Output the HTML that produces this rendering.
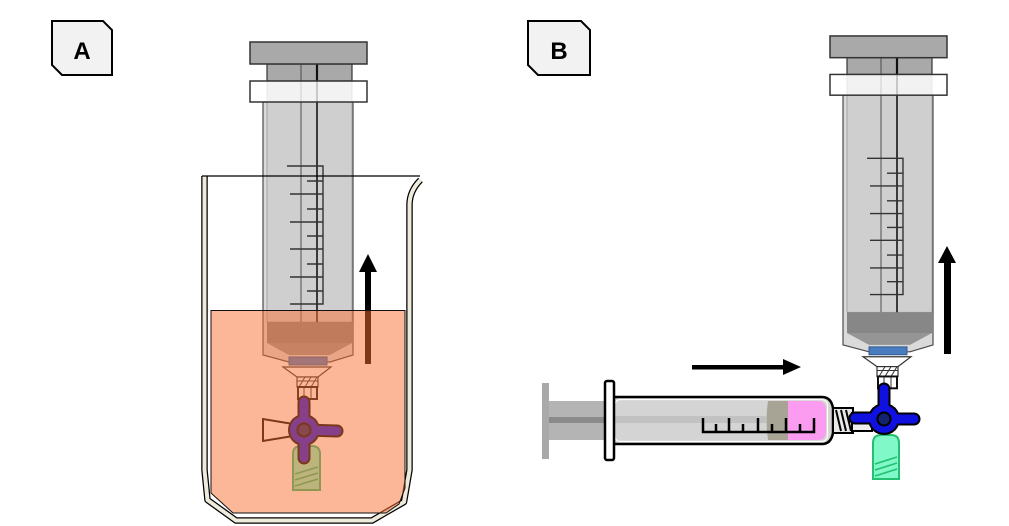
<!DOCTYPE html>
<html>
<head>
<meta charset="utf-8">
<style>
  html,body{margin:0;padding:0;background:#fff;}
  svg{display:block;}
  text{font-family:"Liberation Sans",sans-serif;font-weight:bold;}
</style>
</head>
<body>
<svg width="1009" height="526" viewBox="0 0 1009 526" xmlns="http://www.w3.org/2000/svg">
  <defs>
    <g id="syr">
      <!-- barrel -->
      <path d="M263,102 V355 L289,362 H330 L353,355 V102 Z" fill="#dadada" stroke="#4a4a4a" stroke-width="1.2"/>
      <!-- plunger stem -->
      <rect x="267" y="81" width="85" height="241" fill="#cfcfcf" stroke="#9a9a9a" stroke-width="0.8"/>
      <!-- rod lines -->
      <line x1="301" y1="64" x2="301" y2="322" stroke="#7a7a7a" stroke-width="1.5"/>
      <line x1="317" y1="64" x2="317" y2="322" stroke="#3a3a3a" stroke-width="2"/>
      <!-- rubber -->
      <rect x="267" y="322" width="85" height="21" fill="#878787"/>
      <polygon points="267,343 352,343 330,355 289,355" fill="#959595"/>
      <!-- scale -->
      <path d="M287,166 H323 V304 H290 M307,181 H323 M290,194 H323 M307,209 H323 M290,222 H323 M307,236 H323 M290,249 H323 M307,264 H323 M290,277 H323 M307,291 H323" fill="none" stroke="#333" stroke-width="1.4"/>
      <!-- plunger top -->
      <rect x="267" y="64" width="85" height="17" fill="#a9a9a9" stroke="#333" stroke-width="1.2"/>
      <line x1="301" y1="64" x2="301" y2="81" stroke="#6a6a6a" stroke-width="1.5"/>
      <line x1="317" y1="64" x2="317" y2="81" stroke="#111" stroke-width="2.2"/>
      <!-- cap -->
      <rect x="250" y="42" width="117" height="22" fill="#a9a9a9" stroke="#333" stroke-width="1.5"/>
      <!-- flange -->
      <rect x="250" y="81" width="117" height="21" fill="#ffffff" fill-opacity="0.72" stroke="#333" stroke-width="1.5"/>
      <!-- hub -->
      <rect x="289" y="357" width="38" height="8" fill="#4a7cc0" stroke="#35598f" stroke-width="1"/>
      <!-- funnel -->
      <polygon points="283,367 331,367 318,377 297,377" fill="#ffffff" stroke="#333" stroke-width="1.2"/>
      <!-- threads -->
      <rect x="297" y="377" width="21" height="10" fill="#ffffff" stroke="#333" stroke-width="1.2"/>
      <path d="M299,387 L305,377 M305,387 L311,377 M311,387 L317,377 M297,381 H318" fill="none" stroke="#333" stroke-width="1"/>
      <!-- tube -->
      <rect x="298" y="387" width="19" height="12" fill="#ffffff" stroke="#111" stroke-width="2"/>
      <line x1="304" y1="388" x2="304" y2="398" stroke="#333" stroke-width="1"/>
      <line x1="311" y1="388" x2="311" y2="398" stroke="#333" stroke-width="1"/>
    </g>
  </defs>

  <!-- Label A -->
  <path d="M52,21 H103 L112,30 V75 H62 L52,65 Z" fill="#f2f2f2" stroke="#000" stroke-width="2"/>
  <text x="82" y="59" font-size="24" text-anchor="middle" fill="#000">A</text>

  <!-- Label B -->
  <path d="M528,21 H581 L590,30 V75 H538 L528,65 Z" fill="#f2f2f2" stroke="#000" stroke-width="2"/>
  <text x="559" y="59" font-size="24" text-anchor="middle" fill="#000">B</text>

  <!-- ============ PANEL A ============ -->
  <!-- beaker wall -->
  <path d="M204.5,176 L204.5,470 L207.5,500 L236,520.5 L372,520.5 L404,502 L409.5,470 L409.5,205 Q409.5,191 420.5,180" fill="none" stroke="#000" stroke-width="6.5" stroke-linejoin="round"/>
  <path d="M204.5,176.5 L204.5,470 L207.5,500 L236,520.5 L372,520.5 L404,502 L409.5,470 L409.5,205 Q409.5,191 420.5,180" fill="none" stroke="#efebdc" stroke-width="4" stroke-linejoin="round"/>

  <!-- syringe A -->
  <use href="#syr"/>

  <!-- stopcock A -->
  <path d="M293,424 L263,419 L263,441 L293,436" fill="#ffffff" stroke="#000" stroke-width="2"/>
  <path d="M293,490 V454 Q293,446 301,446 H312 Q320,446 320,454 V490 Z" fill="#80f8c8" stroke="#22c070" stroke-width="2"/>
  <path d="M295,474 L318,467 M295,480 L318,473 M295,486 L318,479" stroke="#22c070" stroke-width="1.6" fill="none"/>
  <g stroke="#000" stroke-linecap="round">
    <circle cx="304" cy="430" r="16" fill="#000" stroke="none"/>
    <line x1="304" y1="430" x2="304" y2="402" stroke-width="13"/>
    <line x1="304" y1="430" x2="337" y2="431" stroke-width="13"/>
    <line x1="304" y1="430" x2="304" y2="458" stroke-width="13"/>
  </g>
  <g stroke="#1010e0" stroke-linecap="round">
    <circle cx="304" cy="430" r="14" fill="#1010e0" stroke="none"/>
    <line x1="304" y1="430" x2="304" y2="402" stroke-width="9"/>
    <line x1="304" y1="430" x2="337" y2="431" stroke-width="9"/>
    <line x1="304" y1="430" x2="304" y2="458" stroke-width="9"/>
  </g>
  <circle cx="304" cy="430" r="6.5" fill="#13236e" stroke="#000" stroke-width="2"/>

  <!-- arrow A -->
  <rect x="365" y="270" width="6" height="94" fill="#000"/>
  <polygon points="368,254 359,272 377,272" fill="#000"/>

  <!-- beaker rim line -->
  <line x1="202" y1="176" x2="420" y2="176" stroke="#000" stroke-width="1.2"/>

  <!-- liquid overlay -->
  <path d="M211,310.5 H405 V488 L399,504 L386,513 H233 L211,493 Z" fill="rgb(250,112,50)" fill-opacity="0.5" stroke="#111" stroke-width="1"/>

  <!-- ============ PANEL B ============ -->
  <!-- horizontal syringe -->
  <rect x="542" y="383" width="7" height="76" fill="#a9a9a9"/>
  <rect x="549" y="401" width="60" height="39" fill="#b4b4b4"/>
  <rect x="549" y="417" width="60" height="6" fill="#8a8a8a"/>
  <path d="M612,397 H822 Q831,397 833,408 V433 Q831,444 822,444 H612 Z" fill="#d4d4d4" stroke="#000" stroke-width="2.5"/>
  <rect x="614.5" y="399.5" width="213" height="42" rx="6" fill="none" stroke="#ffffff" stroke-width="1.2"/>
  <rect x="614" y="416" width="152" height="7" fill="#c2c2c2"/>
  <path d="M768,401 H788 V440 H768 Q765,420 768,401 Z" fill="#a7a496"/>
  <path d="M788,401 H818 Q826,401 826,411 V430 Q826,440 818,440 H788 Z" fill="#fb9cf0"/>
  <path d="M703,418 V432 H814 V418 M716,432 V424 M729,432 V418 M743,432 V424 M758,432 V418 M772,432 V424 M786,432 V418 M800,432 V424" fill="none" stroke="#000" stroke-width="2.5"/>
  <rect x="605" y="381" width="9" height="79" rx="2" fill="#ffffff" stroke="#000" stroke-width="2.5"/>
  <!-- tip threads -->
  <rect x="833" y="408" width="20" height="25" fill="#e8e8e8" stroke="#000" stroke-width="2"/>
  <path d="M836,410 L841,431 M841,410 L846,431 M846,410 L851,431" stroke="#000" stroke-width="2" fill="none"/>
  <rect x="852" y="413" width="20" height="18" fill="#eeeeee" stroke="#000" stroke-width="2"/>

  <!-- arrow B horizontal -->
  <rect x="692" y="365" width="92" height="4.5" fill="#000"/>
  <polygon points="801,367 783,359 783,375" fill="#000"/>

  <!-- vertical syringe B -->
  <use href="#syr" transform="matrix(1,0,0,0.987,580,-5.5)"/>

  <!-- stopcock B -->
  <path d="M873,479 V443 Q873,435 881,435 H891 Q899,435 899,443 V479 Z" fill="#80f8c8" stroke="#22c070" stroke-width="2"/>
  <path d="M875,464 L897,457 M875,470 L897,463 M875,476 L897,469" stroke="#22c070" stroke-width="1.6" fill="none"/>
  <g stroke="#000" stroke-linecap="round">
    <circle cx="884" cy="419" r="16" fill="#000" stroke="none"/>
    <line x1="884" y1="419" x2="884" y2="389" stroke-width="13"/>
    <line x1="884" y1="418" x2="855" y2="418" stroke-width="13"/>
    <line x1="884" y1="419" x2="914" y2="419" stroke-width="13"/>
  </g>
  <g stroke="#1010e0" stroke-linecap="round">
    <circle cx="884" cy="419" r="14" fill="#1010e0" stroke="none"/>
    <line x1="884" y1="419" x2="884" y2="389" stroke-width="9"/>
    <line x1="884" y1="418" x2="855" y2="418" stroke-width="9"/>
    <line x1="884" y1="419" x2="914" y2="419" stroke-width="9"/>
  </g>
  <circle cx="884" cy="419" r="6.5" fill="#13236e" stroke="#000" stroke-width="2"/>

  <!-- arrow B vertical -->
  <rect x="944" y="261" width="7" height="93" fill="#000"/>
  <polygon points="947,246 938,263 956,263" fill="#000"/>
</svg>
</body>
</html>
